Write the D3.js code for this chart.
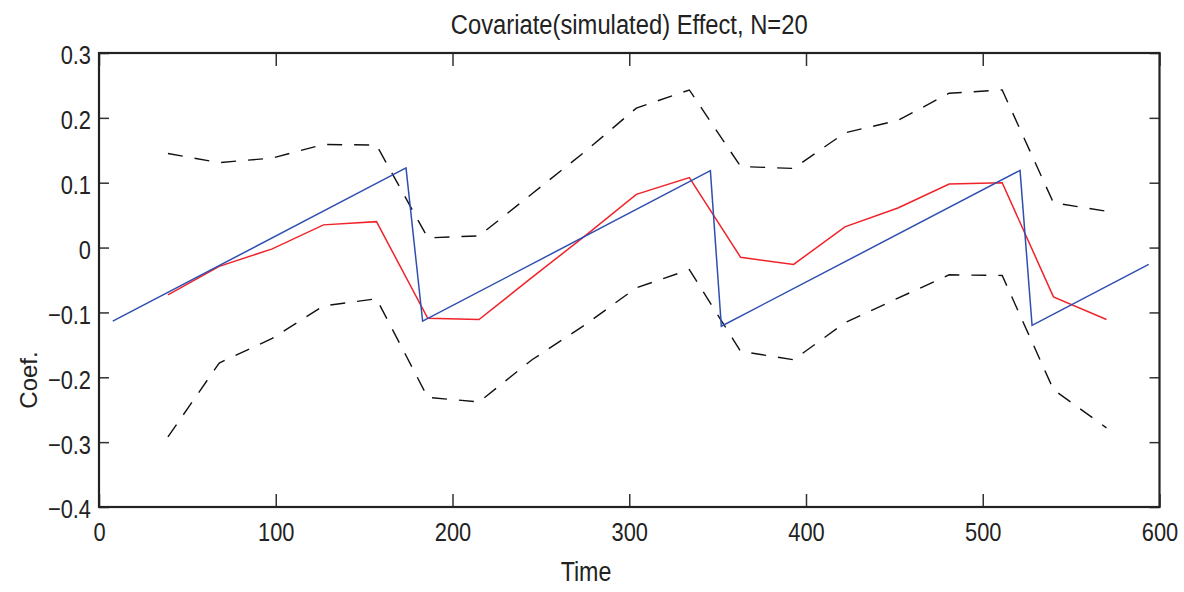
<!DOCTYPE html>
<html>
<head>
<meta charset="utf-8">
<script src="https://cdn.jsdelivr.net/npm/d3@7"></script>
<style>
  body { margin: 0; background: #fff; }
  svg text { font-family: "Liberation Sans", Arial, sans-serif; fill: #222; }
</style>
</head>
<body>
<div id="chart"></div>
<script>
// sample times of the estimated curve and its bounds
const times = [39, 68, 98, 127, 157, 186, 215, 245, 275, 304, 334, 363, 393, 422, 452, 481, 511, 540, 570];
const estimate = [-0.073, -0.029, -0.002, 0.035, 0.040, -0.109, -0.111, -0.046, 0.018, 0.082, 0.108, -0.015, -0.026, 0.032, 0.061, 0.098, 0.100, -0.076, -0.111];
const upper = [0.145, 0.131, 0.138, 0.159, 0.158, 0.015, 0.018, 0.083, 0.148, 0.215, 0.243, 0.125, 0.122, 0.177, 0.196, 0.238, 0.243, 0.069, 0.056];
const lower = [-0.292, -0.178, -0.140, -0.090, -0.079, -0.231, -0.238, -0.173, -0.119, -0.062, -0.034, -0.160, -0.173, -0.116, -0.078, -0.042, -0.043, -0.219, -0.278];

// true (simulated) covariate effect, sawtooth vertices
const trueTimes = [7.8, 173.7, 183.1, 345.9, 352.1, 521.1, 527.9, 593.9];
const trueValues = [-0.1135, 0.1228, -0.1135, 0.1186, -0.1213, 0.119, -0.120, -0.026];

const xTicks = [0, 100, 200, 300, 400, 500, 600];
const yTicks = [-0.4, -0.3, -0.2, -0.1, 0, 0.1, 0.2, 0.3];

const width = 1184, height = 592;
const plotLeft = 99, plotRight = 1159.5, plotTop = 53, plotBottom = 507;

const svg = d3.select("#chart").append("svg")
    .attr("width", width)
    .attr("height", height);

const x = d3.scaleLinear().domain([0, 600]).range([plotLeft, plotRight]);
const y = d3.scaleLinear().domain([-0.4, 0.3]).range([plotBottom, plotTop]);

const fmtY = d => d === 0 ? "0" : (d < 0 ? "\u2212" : "") + Math.abs(d).toFixed(1);

// no narrow helvetica installed, so squeeze glyphs horizontally
function squeeze(sel, k) {
    sel.each(function() {
        const w = this.getComputedTextLength();
        d3.select(this).attr("textLength", w * k).attr("lengthAdjust", "spacingAndGlyphs");
    });
}

// axes, ticks pointing inward like matlab
svg.append("g")
    .attr("transform", `translate(0,${plotBottom})`)
    .call(d3.axisBottom(x).tickValues(xTicks).tickSize(-13).tickPadding(16).tickFormat(d3.format("d")));
svg.append("g")
    .attr("transform", `translate(0,${plotTop})`)
    .call(d3.axisTop(x).tickValues(xTicks).tickSize(-13).tickFormat(""));
const yAxis = svg.append("g")
    .attr("transform", `translate(${plotLeft},0)`)
    .call(d3.axisLeft(y).tickValues(yTicks).tickSize(-10).tickPadding(8).tickFormat(fmtY));
svg.append("g")
    .attr("transform", `translate(${plotRight},0)`)
    .call(d3.axisRight(y).tickValues(yTicks).tickSize(-10).tickFormat(""));

svg.selectAll(".domain").remove();
svg.selectAll(".tick line").attr("stroke", "#333").attr("stroke-width", 1.5);
svg.selectAll(".tick text").attr("font-size", 26).attr("fill", "#222")
    .style("font-family", "'Liberation Sans', Arial, sans-serif");
yAxis.selectAll(".tick text").attr("dy", "0.42em");
squeeze(svg.selectAll(".tick text"), 0.84);

// box
svg.append("rect")
    .attr("x", plotLeft).attr("y", plotTop)
    .attr("width", plotRight - plotLeft).attr("height", plotBottom - plotTop)
    .attr("fill", "none")
    .attr("stroke", "#222")
    .attr("stroke-width", 2.2);

const line = d3.line();

svg.append("path")
    .attr("d", line(times.map((t, i) => [x(t), y(upper[i])])))
    .attr("fill", "none").attr("stroke", "#111").attr("stroke-width", 1.4)
    .attr("stroke-dasharray", "15,12");

svg.append("path")
    .attr("d", line(times.map((t, i) => [x(t), y(lower[i])])))
    .attr("fill", "none").attr("stroke", "#111").attr("stroke-width", 1.4)
    .attr("stroke-dasharray", "15,12");

svg.append("path")
    .attr("d", line(times.map((t, i) => [x(t), y(estimate[i])])))
    .attr("fill", "none").attr("stroke", "#f0232a").attr("stroke-width", 1.5);

svg.append("path")
    .attr("d", line(trueTimes.map((t, i) => [x(t), y(trueValues[i])])))
    .attr("fill", "none").attr("stroke", "#2f4fb0").attr("stroke-width", 1.5);

// labels
const title = svg.append("text")
    .attr("x", (plotLeft + plotRight) / 2).attr("y", 34)
    .attr("text-anchor", "middle")
    .attr("font-size", 27)
    .text("Covariate(simulated) Effect, N=20");
squeeze(title, 0.88);

const xLabel = svg.append("text")
    .attr("x", 586).attr("y", 581)
    .attr("text-anchor", "middle")
    .attr("font-size", 27)
    .text("Time");
squeeze(xLabel, 0.86);

svg.append("text")
    .attr("transform", "translate(37,380) rotate(-90)")
    .attr("text-anchor", "middle")
    .attr("font-size", 24)
    .text("Coef.");
</script>
</body>
</html>
